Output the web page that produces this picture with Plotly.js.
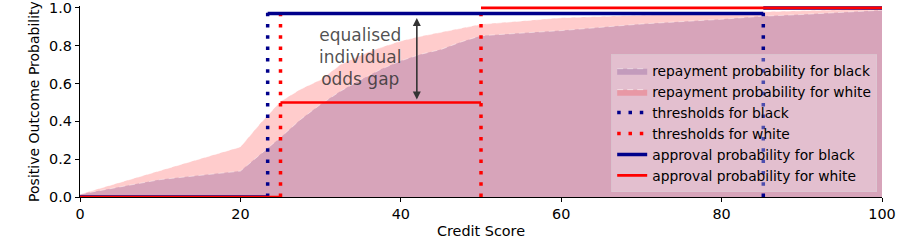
<!DOCTYPE html>
<html>
<head>
<meta charset="utf-8">
<script src="https://cdn.plot.ly/plotly-3.0.1.min.js"></script>
<style>html,body{margin:0;padding:0;background:#fff;}#chart{width:916px;height:248px;}</style>
</head>
<body>
<div id="chart"></div>
<script>
// Credit score grid
const creditScore = [0, 10, 20, 22.5, 25, 27.5, 30, 32.5, 35, 37.5, 40, 42.5, 45, 47.5, 50, 60, 70, 80, 85, 90, 95, 100];
// Repayment probability by group
const repayBlack = [0.015, 0.092, 0.137, 0.225, 0.315, 0.41, 0.49, 0.56, 0.62, 0.675, 0.72, 0.755, 0.78, 0.82, 0.853, 0.88, 0.915, 0.94, 0.956, 0.965, 0.975, 0.988];
const repayWhite = [0.015, 0.14, 0.265, 0.39, 0.505, 0.57, 0.62, 0.70, 0.75, 0.79, 0.825, 0.85, 0.87, 0.89, 0.913, 0.948, 0.963, 0.975, 0.98, 0.985, 0.99, 0.995];
// Thresholds
const thresholdsBlack = [23.4, 85.2];
const thresholdsWhite = [25, 50];
// Approval probabilities in each band (below low, between, above high)
const approvalBlack = [0, 0.97, 1.0];
const approvalWhite = [0, 0.5, 1.0];
const xMin = 0, xMax = 100;

function vlines(ts) {
  const x = [], y = [];
  ts.forEach(t => { x.push(t, t, null); y.push(0, 1.0, null); });
  return {x, y};
}
function bands(ts, ps) {
  const edges = [xMin, ts[0], ts[1], xMax];
  const x = [], y = [];
  for (let i = 0; i < 3; i++) { x.push(edges[i], edges[i + 1], null); y.push(ps[i], ps[i], null); }
  return {x, y};
}
const vb = vlines(thresholdsBlack), vw = vlines(thresholdsWhite);
const ab = bands(thresholdsBlack, approvalBlack), aw = bands(thresholdsWhite, approvalWhite);

const traces = [
  {x: creditScore, y: repayWhite, type: 'scatter', mode: 'lines', fill: 'tozeroy',
   fillcolor: 'rgba(255,0,0,0.2)', line: {color: 'rgba(255,255,255,0.55)', width: 1, dash: '6px,4px'},
   name: 'repayment probability for white', legendrank: 2},
  {x: creditScore, y: repayBlack, type: 'scatter', mode: 'lines', fill: 'tozeroy',
   fillcolor: 'rgba(110,60,140,0.28)', line: {color: 'rgba(255,255,255,0.45)', width: 1, dash: '6px,4px'},
   name: 'repayment probability for black', legendrank: 1},
  {x: vb.x, y: vb.y, type: 'scatter', mode: 'lines', line: {color: '#00008b', width: 3.5, dash: '3.5px,7.8px'},
   name: 'thresholds for black', cliponaxis: false, legendrank: 3},
  {x: vw.x, y: vw.y, type: 'scatter', mode: 'lines', line: {color: '#ff0000', width: 3.5, dash: '3.5px,7.8px'},
   name: 'thresholds for white', cliponaxis: false, legendrank: 4},
  {x: ab.x, y: ab.y, type: 'scatter', mode: 'lines', line: {color: '#00008b', width: 3.5},
   name: 'approval probability for black', cliponaxis: false, legendrank: 5},
  {x: aw.x, y: aw.y, type: 'scatter', mode: 'lines', line: {color: '#ff0000', width: 2.6},
   name: 'approval probability for white', cliponaxis: false, legendrank: 6}
];

const layout = {
  width: 916, height: 248,
  margin: {l: 80, r: 34, t: 6, b: 51},
  paper_bgcolor: '#fff', plot_bgcolor: '#fff',
  font: {family: 'DejaVu Sans', size: 14.4, color: '#000'},
  showlegend: true,
  legend: {x: 0.994, y: 0.025, xanchor: 'right', yanchor: 'bottom', bgcolor: 'rgba(255,255,255,0.3)',
           bordercolor: 'rgba(220,200,210,0.8)', borderwidth: 1, font: {size: 13.8, family: 'DejaVu Sans'},
           traceorder: 'normal', tracegroupgap: 0},
  xaxis: {range: [0, 100], tickvals: [0, 20, 40, 60, 80, 100], showgrid: false, zeroline: false,
          showline: true, linecolor: '#000', linewidth: 1.2, ticks: 'outside', ticklen: 4, tickcolor: '#000',
          tickfont: {size: 14.4}, ticklabeloverflow: 'allow',
          title: {text: 'Credit Score', font: {size: 14.4}, standoff: 4}},
  yaxis: {range: [0, 1.01], tickvals: [0, 0.2, 0.4, 0.6, 0.8, 1.0], tickformat: '.1f', showgrid: false, zeroline: false,
          showline: true, linecolor: '#000', linewidth: 1.2, ticks: 'outside', ticklen: 4, tickcolor: '#000',
          tickfont: {size: 14.4}, ticklabeloverflow: 'allow',
          title: {text: 'Positive Outcome Probability', font: {size: 14}, standoff: 6}},
  annotations: [
    {x: 42, y: 0.515, xref: 'x', yref: 'y', ax: 42, ay: 0.955, axref: 'x', ayref: 'y', text: '',
     showarrow: true, arrowhead: 2, startarrowhead: 2, arrowside: 'end+start', arrowsize: 1, arrowwidth: 1.6, arrowcolor: '#333'},
    {x: 35, y: 0.74, xref: 'x', yref: 'y', text: 'equalised<br>individual<br>odds gap', showarrow: false,
     font: {size: 17, color: 'rgba(50,50,50,0.85)', family: 'DejaVu Sans'}, align: 'center'}
  ]
};
Plotly.newPlot('chart', traces, layout, {displayModeBar: false, staticPlot: true});
</script>
</body>
</html>
